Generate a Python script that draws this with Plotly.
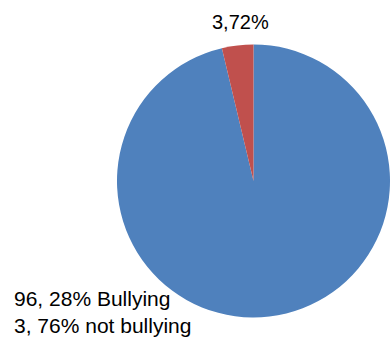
import plotly.graph_objects as go

labels = ["Bullying", "not bullying"]
values = [96.28, 3.72]
colors = ["#4F81BD", "#C0504D"]

top_label = "3,72%"
legend_lines = ["96, 28% Bullying", "3, 76% not bullying"]

W, H = 390, 338
font_family = "Liberation Sans, Arial, sans-serif"

fig = go.Figure(
    go.Pie(
        labels=labels,
        values=values,
        marker=dict(colors=colors, line=dict(width=0)),
        sort=False,
        direction="clockwise",
        rotation=0,
        textinfo="none",
        hoverinfo="label+percent",
        showlegend=False,
        domain=dict(x=[117 / W, 1.0], y=[(157 - 137) / H, (157 + 137) / H]),
    )
)

fig.add_annotation(
    x=240.5 / W, y=1 - 22 / H, xref="paper", yref="paper",
    text=top_label, showarrow=False, xanchor="center", yanchor="middle",
    font=dict(family=font_family, size=20, color="#000000"),
)
fig.add_annotation(
    x=12 / W, y=1 - 298 / H, xref="paper", yref="paper",
    text=legend_lines[0], showarrow=False, xanchor="left", yanchor="middle",
    font=dict(family=font_family, size=21, color="#000000"),
)
fig.add_annotation(
    x=12 / W, y=1 - 325 / H, xref="paper", yref="paper",
    text=legend_lines[1], showarrow=False, xanchor="left", yanchor="middle",
    font=dict(family=font_family, size=21, color="#000000"),
)

fig.update_layout(
    width=W, height=H,
    margin=dict(l=0, r=0, t=0, b=0),
    paper_bgcolor="white", plot_bgcolor="white",
)

fig.write_html("out.html")
